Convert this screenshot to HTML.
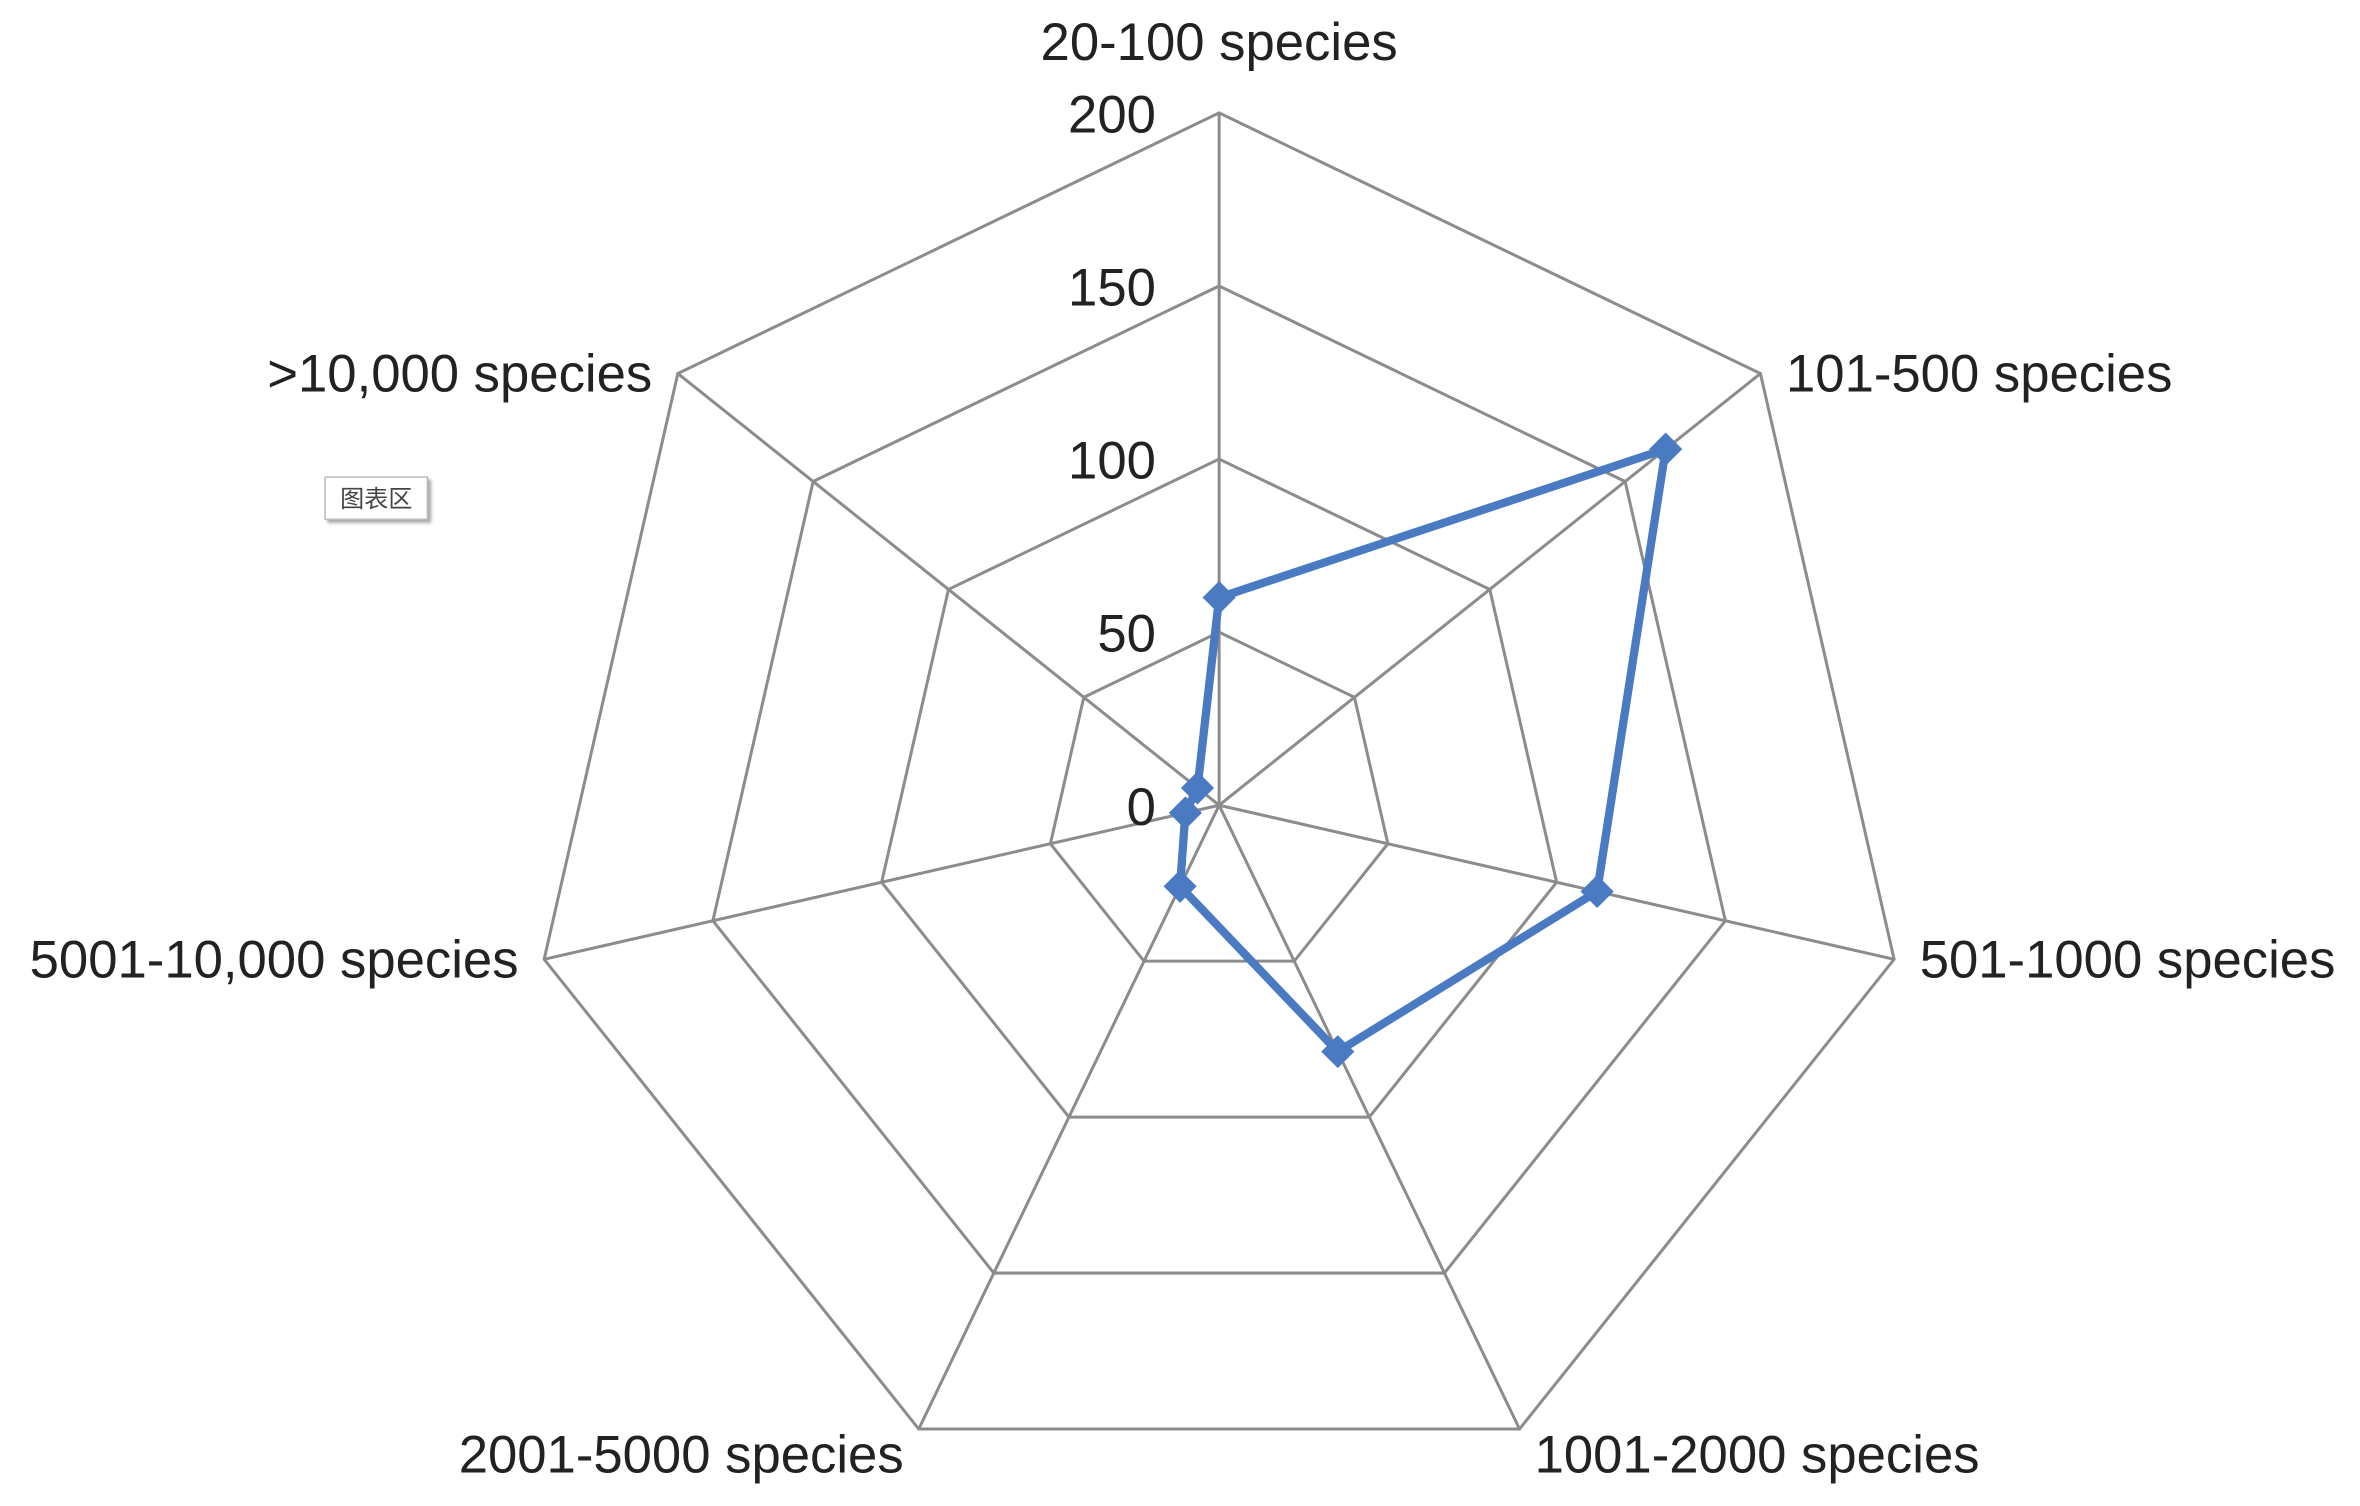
<!DOCTYPE html>
<html><head><meta charset="utf-8"><style>
html,body{margin:0;padding:0;background:#fff;}
svg{display:block;}
text{font-family:"Liberation Sans",sans-serif;font-size:35px;fill:#222;}
</style></head><body>
<svg id="chart" width="2360" height="1506" viewBox="0 0 1568 1000.6" preserveAspectRatio="none" xmlns="http://www.w3.org/2000/svg">
<g id="grid"></g>
<g id="ticks"></g>
<g id="cats"></g>
<g id="series"></g>
<g>
<rect x="216" y="317" width="68" height="28" fill="#fff" stroke="#bbb" stroke-width="1" style="filter:drop-shadow(2px 2px 1px #aaa)"/>
<text x="250" y="337" text-anchor="middle" style="font-size:16px;font-family:'Liberation Sans','Noto Sans CJK SC',sans-serif;fill:#444">图表区</text>
</g>
</svg>
<script>
const categories=["20-100 species","101-500 species","501-1000 species","1001-2000 species","2001-5000 species","5001-10,000 species",">10,000 species"];
const values=[60,165,112,79,26,10,8];
const tickValues=[0,50,100,150,200];
const tickLabels=["0","50","100","150","200"];
const maxV=200;
const cx=810, cy=535, R=460;
const NS="http://www.w3.org/2000/svg";
function ang(i){return -Math.PI/2+i*2*Math.PI/categories.length;}
function pt(i,v){const r=v/maxV*R;return [cx+r*Math.cos(ang(i)),cy+r*Math.sin(ang(i))];}
function mk(tag,attrs,parent){const e=document.createElementNS(NS,tag);for(const k in attrs)e.setAttribute(k,attrs[k]);parent.appendChild(e);return e;}
const grid=document.getElementById('grid');
tickValues.forEach((t,j)=>{ if(t===0)return;
  const p=categories.map((c,i)=>pt(i,t).join(',')).join(' ');
  const e=mk('polygon',{points:p,fill:'none',stroke:'#8c8c8c','stroke-width':2},grid);
  
  
});
categories.forEach((c,i)=>{const [x,y]=pt(i,maxV);
  const e=mk('line',{x1:cx,y1:cy,x2:x,y2:y,stroke:'#8c8c8c','stroke-width':2},grid);
  
  
});
const ticks=document.getElementById('ticks');
tickValues.forEach((t,j)=>{const y=cy-t/maxV*R;
  const e=mk('text',{x:768,y:y+13,'text-anchor':'end'},ticks);e.textContent=tickLabels[j];
  
  
});
const cats=document.getElementById('cats');
categories.forEach((c,i)=>{const [x,y]=pt(i,maxV);
  const a=ang(i);const cs=Math.cos(a);
  let anchor='middle',dx=0,dy=0;
  if(i===0){dy=-35;}
  else if(cs>0.1){anchor='start';dx=17;dy=12;}
  else if(cs<-0.1){anchor='end';dx=-17;dy=12;}
  if(i===3){anchor='start';dx=10;dy=29;}
  if(i===4){anchor='end';dx=-10;dy=29;}
  const e=mk('text',{x:x+dx,y:y+dy,'text-anchor':anchor},cats);e.textContent=c;
  
  
});
const series=document.getElementById('series');
const pts=values.map((v,i)=>pt(i,v));
const poly=mk('polygon',{points:pts.map(p=>p.join(',')).join(' '),fill:'none',stroke:'#4a7ac2','stroke-width':5.5,'stroke-linejoin':'round'},series);


pts.forEach(([x,y])=>{
  const d=mk('polygon',{points:`${x},${y-11} ${x+11},${y} ${x},${y+11} ${x-11},${y}`,fill:'#4a7ac2'},series);
  
  
});
</script>
</body></html>
